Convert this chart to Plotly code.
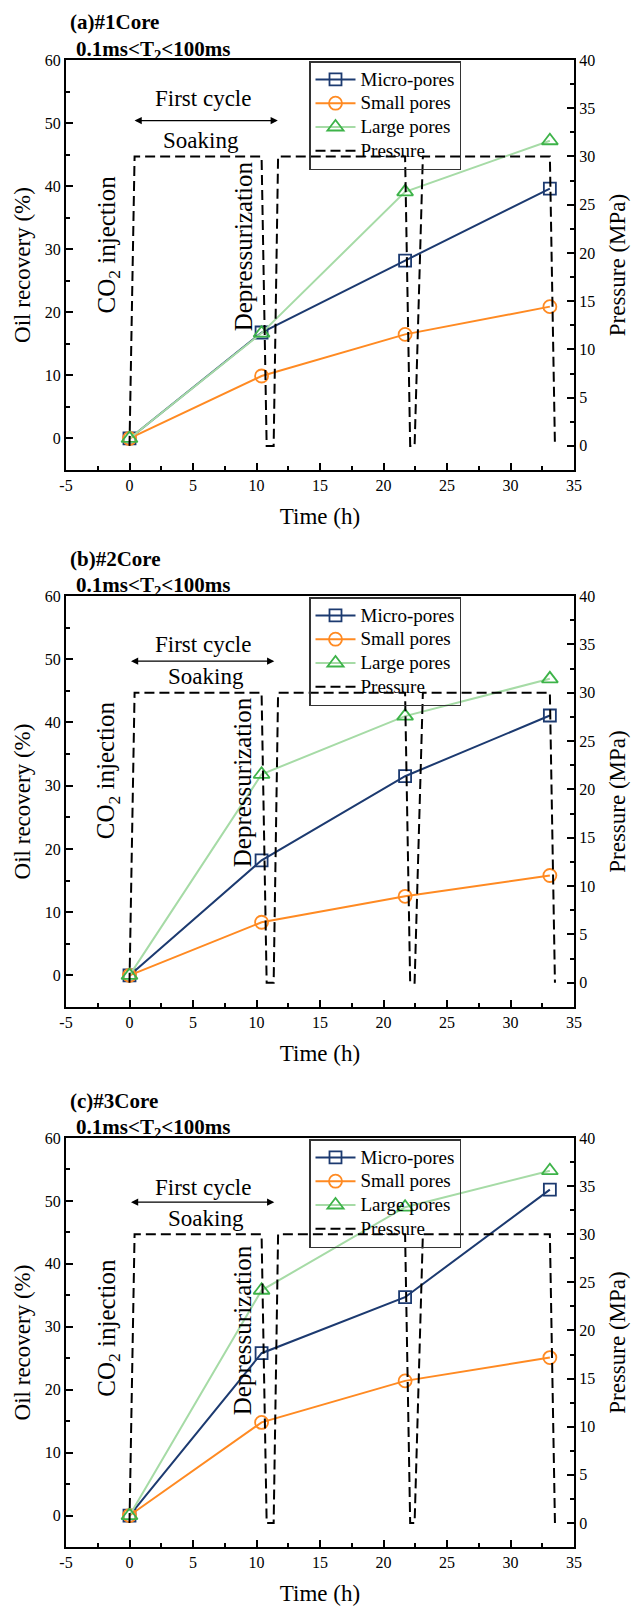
import plotly.graph_objects as go

# ---------------- data ----------------
time_h = [0, 10.4, 21.7, 33.1]

micro_a = [0, 16.8, 28.2, 39.6]
small_a = [0, 9.9, 16.5, 20.9]
large_a = [0, 16.7, 39.1, 47.2]

micro_b = [0, 18.2, 31.5, 41.1]
small_b = [0, 8.4, 12.5, 15.8]
large_b = [0, 31.8, 41.0, 46.9]

micro_c = [0, 25.8, 34.7, 51.8]
small_c = [0, 14.8, 21.4, 25.1]
large_c = [0, 35.8, 49.0, 54.8]

pressure_time = [0, 0.4, 10.4, 10.8, 11.35, 11.7, 21.7, 22.1, 22.45, 23.1, 33.1, 33.5]
pressure_mpa = [0, 30, 30, 0, 0, 30, 30, 0, 0, 30, 30, 0]

panel_titles = ["(a)#1Core", "(b)#2Core", "(c)#3Core"]
x_tick_vals = [-5, 0, 5, 10, 15, 20, 25, 30, 35]
x_tick_text = ["-5", "0", "5", "10", "15", "20", "25", "30", "35"]
series_names = ["Micro-pores", "Small pores", "Large pores", "Pressure"]

panels = [
    dict(micro=micro_a, small=small_a, large=large_a,
         co2_y=30.8, dep_y=30.5, fc=(5.82, 53.9), soak=(5.66, 47.3), arrow=(0.28, 11.68, 50.4)),
    dict(micro=micro_b, small=small_b, large=large_b,
         co2_y=32.5, dep_y=30.6, fc=(5.82, 52.3), soak=(6.0, 47.3), arrow=(0.0, 11.4, 49.7)),
    dict(micro=micro_c, small=small_c, large=large_c,
         co2_y=29.9, dep_y=29.5, fc=(5.82, 52.1), soak=(6.0, 47.2), arrow=(0.0, 11.4, 49.8)),
]

# ---------------- layout geometry (pixels) ----------------
W, H = 631, 1613
tops = [60, 596, 1138]
bottoms = [470, 1007, 1547]
x_left, x_right = 66, 574

FONT = "Liberation Serif"
c_micro = "#1c3a70"
c_small = "#ff8a22"
c_large_line = "#a6dba6"
c_large_marker = "#3db349"

fig = go.Figure()
layout = dict(
    width=W, height=H,
    margin=dict(l=0, r=0, t=0, b=0, autoexpand=False),
    paper_bgcolor="white", plot_bgcolor="white",
    font=dict(family=FONT, size=16, color="black"),
    annotations=[],
    showlegend=True,
)

def py(p):
    return 1 - p / H

def legend_label(name):
    return f'<span style="font-size:19px">{name}</span>'

for i, pnl in enumerate(panels):
    n = i + 1
    xa = "x" if n == 1 else f"x{n}"
    yl_id = 2 * i + 1
    yr_id = 2 * i + 2
    yl = "y" if yl_id == 1 else f"y{yl_id}"
    yr = f"y{yr_id}"
    leg = "legend" if n == 1 else f"legend{n}"
    dom_y = [py(bottoms[i]), py(tops[i])]
    dom_x = [x_left / W, x_right / W]

    xkey = "xaxis" if n == 1 else f"xaxis{n}"
    ylkey = "yaxis" if yl_id == 1 else f"yaxis{yl_id}"
    yrkey = f"yaxis{yr_id}"

    layout[xkey] = dict(
        domain=dom_x, anchor=yl, range=[-5, 35], automargin=False,
        tickmode="array", tickvals=x_tick_vals, ticktext=x_tick_text,
        ticks="inside", ticklen=7, tickwidth=1.5, tickcolor="black",
        minor=dict(tickmode="linear", tick0=-5, dtick=2.5, ticks="inside", ticklen=4,
                   tickwidth=1.5, tickcolor="black"),
        showline=True, linewidth=2, linecolor="black", mirror=True,
        showgrid=False, zeroline=False,
        tickfont=dict(family=FONT, size=16),
        title=dict(text="Time (h)", font=dict(family=FONT, size=23), standoff=15),
    )
    layout[ylkey] = dict(
        domain=dom_y, anchor=xa, range=[-5, 60], automargin=False,
        tickmode="linear", tick0=0, dtick=10,
        ticks="inside", ticklen=7, tickwidth=1.5, tickcolor="black",
        minor=dict(tickmode="linear", tick0=0, dtick=5, ticks="inside", ticklen=4,
                   tickwidth=1.5, tickcolor="black"),
        showline=True, linewidth=2, linecolor="black",
        showgrid=False, zeroline=False,
        tickfont=dict(family=FONT, size=16),
        title=dict(text="Oil recovery (%)", font=dict(family=FONT, size=23), standoff=8),
    )
    layout[yrkey] = dict(
        overlaying=yl, side="right", anchor=xa, range=[-2.5, 40], automargin=False,
        tickmode="linear", tick0=0, dtick=5,
        ticks="inside", ticklen=7, tickwidth=1.5, tickcolor="black",
        minor=dict(tickmode="linear", tick0=0, dtick=2.5, ticks="inside", ticklen=4,
                   tickwidth=1.5, tickcolor="black"),
        showline=True, linewidth=2, linecolor="black",
        showgrid=False, zeroline=False,
        tickfont=dict(family=FONT, size=16),
        title=dict(text="Pressure (MPa)", font=dict(family=FONT, size=23), standoff=15),
    )
    layout[leg] = dict(
        x=309 / W, y=py(tops[i] + 1), xanchor="left", yanchor="top",
        bgcolor="rgba(0,0,0,0)", bordercolor="#333333", borderwidth=1.5,
        font=dict(family=FONT, size=16), tracegroupgap=0, itemwidth=40,
    )

    fig.add_trace(go.Scatter(
        x=time_h, y=pnl["micro"], name=legend_label(series_names[0]), xaxis=xa, yaxis=yl, legend=leg,
        mode="lines+markers", line=dict(color=c_micro, width=2),
        marker=dict(symbol="square-open", size=12, color=c_micro, line=dict(width=1.8)),
        legendrank=1,
    ))
    fig.add_trace(go.Scatter(
        x=time_h, y=pnl["small"], name=legend_label(series_names[1]), xaxis=xa, yaxis=yl, legend=leg,
        mode="lines+markers", line=dict(color=c_small, width=2),
        marker=dict(symbol="circle-open", size=13, color=c_small, line=dict(width=1.8)),
        legendrank=2,
    ))
    fig.add_trace(go.Scatter(
        x=time_h, y=pnl["large"], name=legend_label(series_names[2]), xaxis=xa, yaxis=yl, legend=leg,
        mode="lines+markers", line=dict(color=c_large_line, width=2),
        marker=dict(symbol="triangle-up-open", size=14, color=c_large_marker, line=dict(width=1.8)),
        legendrank=3,
    ))
    fig.add_trace(go.Scatter(
        x=pressure_time, y=pressure_mpa, name=legend_label(series_names[3]), xaxis=xa, yaxis=yr, legend=leg,
        mode="lines", line=dict(color="black", width=2, dash="10px,5px"),
        legendrank=4,
    ))

    ann = layout["annotations"]
    # panel titles
    ann.append(dict(text=f"<b>{panel_titles[i]}</b>", xref="paper", yref="paper",
                    x=68 / W, y=py(tops[i] - 37.5), xanchor="left", yanchor="middle",
                    showarrow=False, font=dict(family=FONT, size=21)))
    ann.append(dict(text="<b>0.1ms&lt;T<sub>2</sub>&lt;100ms</b>", xref="paper", yref="paper",
                    x=74 / W, y=py(tops[i] - 10), xanchor="left", yanchor="middle",
                    showarrow=False, font=dict(family=FONT, size=21)))
    # rotated labels
    ann.append(dict(text="CO<sub>2</sub> injection", xref=xa, yref=yl, x=-1.67, y=pnl["co2_y"],
                    textangle=-90, showarrow=False, font=dict(family=FONT, size=25)))
    ann.append(dict(text="Depressurization", xref=xa, yref=yl, x=8.96, y=pnl["dep_y"],
                    textangle=-90, showarrow=False, font=dict(family=FONT, size=25)))
    ann.append(dict(text="First cycle", xref=xa, yref=yl, x=pnl["fc"][0], y=pnl["fc"][1],
                    showarrow=False, font=dict(family=FONT, size=23)))
    ann.append(dict(text="Soaking", xref=xa, yref=yl, x=pnl["soak"][0], y=pnl["soak"][1],
                    showarrow=False, font=dict(family=FONT, size=23)))
    a0, a1, ay_ = pnl["arrow"]
    ann.append(dict(text="", xref=xa, yref=yl, x=a1, y=ay_, ax=a0, ay=ay_,
                    axref=xa, ayref=yl, showarrow=True, arrowside="end+start",
                    arrowhead=2, arrowsize=1.2, arrowwidth=1.2, arrowcolor="black"))

fig.update_layout(**layout)
fig.write_html(
    "out.html",
    config={"displayModeBar": False},
    post_script="document.body.style.margin='0';document.body.style.overflow='hidden';",
)
